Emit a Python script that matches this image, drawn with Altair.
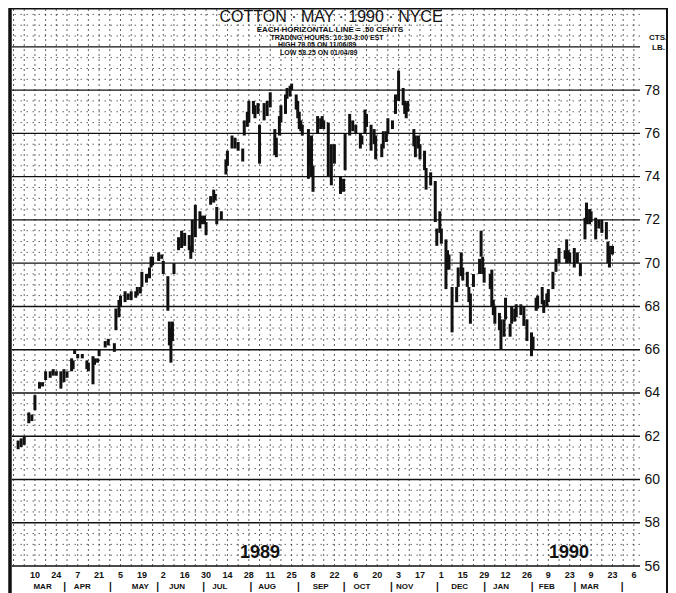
import altair as alt
import pandas as pd

# ---------------- data ----------------
bar_dates = [
    "1989-02-27", "1989-03-01", "1989-03-03", "1989-03-06", "1989-03-08", "1989-03-10",
    "1989-03-13", "1989-03-15", "1989-03-17", "1989-03-20", "1989-03-22", "1989-03-24",
    "1989-03-27", "1989-03-29", "1989-03-31", "1989-04-03", "1989-04-04", "1989-04-05",
    "1989-04-07", "1989-04-10", "1989-04-13", "1989-04-14", "1989-04-17", "1989-04-18",
    "1989-04-20", "1989-04-21", "1989-04-25", "1989-04-27", "1989-05-01", "1989-05-02",
    "1989-05-04", "1989-05-05",
    "1989-05-08", "1989-05-10", "1989-05-12", "1989-05-15", "1989-05-16", "1989-05-18",
    "1989-05-19", "1989-05-22", "1989-05-24", "1989-05-25", "1989-05-26", "1989-05-30",
    "1989-06-01", "1989-06-02", "1989-06-05", "1989-06-06", "1989-06-07", "1989-06-08",
    "1989-06-09", "1989-06-12", "1989-06-14", "1989-06-16", "1989-06-19", "1989-06-20",
    "1989-06-21", "1989-06-23", "1989-06-26", "1989-06-27", "1989-06-29", "1989-06-30",
    "1989-07-03", "1989-07-05", "1989-07-06", "1989-07-07", "1989-07-10",
    "1989-07-13", "1989-07-14", "1989-07-17", "1989-07-19", "1989-07-21", "1989-07-24",
    "1989-07-25", "1989-07-27", "1989-07-28", "1989-07-31", "1989-08-01", "1989-08-03",
    "1989-08-04", "1989-08-07", "1989-08-09", "1989-08-11", "1989-08-14", "1989-08-15",
    "1989-08-17", "1989-08-18", "1989-08-21", "1989-08-22", "1989-08-24", "1989-08-25",
    "1989-08-28", "1989-08-29", "1989-08-30", "1989-08-31", "1989-09-01", "1989-09-05",
    "1989-09-06", "1989-09-07", "1989-09-08", "1989-09-11", "1989-09-13", "1989-09-14",
    "1989-09-15", "1989-09-18", "1989-09-20", "1989-09-22",
    "1989-09-26", "1989-09-28", "1989-09-29", "1989-10-02", "1989-10-04", "1989-10-06",
    "1989-10-09", "1989-10-10", "1989-10-12", "1989-10-13", "1989-10-16", "1989-10-18",
    "1989-10-19", "1989-10-23", "1989-10-24", "1989-10-26", "1989-10-27", "1989-10-30",
    "1989-11-01", "1989-11-03", "1989-11-06", "1989-11-07", "1989-11-08", "1989-11-09",
    "1989-11-13", "1989-11-14", "1989-11-16", "1989-11-17", "1989-11-20", "1989-11-21",
    "1989-11-24", "1989-11-27", "1989-11-28", "1989-11-30", "1989-12-01", "1989-12-04",
    "1989-12-05", "1989-12-06",
    "1989-12-08", "1989-12-11", "1989-12-12", "1989-12-14", "1989-12-15", "1989-12-18",
    "1989-12-19", "1989-12-20", "1989-12-22", "1989-12-26", "1989-12-27", "1989-12-28",
    "1989-12-29", "1990-01-02", "1990-01-03", "1990-01-04", "1990-01-05", "1990-01-08",
    "1990-01-09", "1990-01-11", "1990-01-12", "1990-01-15", "1990-01-16", "1990-01-18",
    "1990-01-19", "1990-01-22", "1990-01-24", "1990-01-26", "1990-01-29", "1990-01-30",
    "1990-02-01", "1990-02-02", "1990-02-05", "1990-02-06", "1990-02-08", "1990-02-09",
    "1990-02-12", "1990-02-14", "1990-02-16", "1990-02-20", "1990-02-21", "1990-02-22",
    "1990-02-23", "1990-02-26", "1990-02-28", "1990-03-02", "1990-03-05", "1990-03-06",
    "1990-03-08", "1990-03-09", "1990-03-12", "1990-03-14", "1990-03-16", "1990-03-19",
    "1990-03-20", "1990-03-21", "1990-03-23",
]
bar_low = [
    61.4, 61.5, 61.6, 62.6, 62.7, 63.2,
    64.2, 64.3, 64.6, 64.7, 64.8, 64.8,
    64.2, 64.5, 64.7, 65.0, 65.1, 65.8,
    65.6, 65.6, 65.1, 65.0, 64.4, 65.3,
    65.4, 65.7, 66.1, 66.2, 65.9, 66.9,
    67.5, 68.0,
    68.2, 68.3, 68.3, 68.4, 68.5, 68.6,
    68.9, 69.1, 69.3, 69.8, 69.9, 70.1,
    70.2, 69.5, 67.8, 66.2, 65.4, 66.4,
    69.5, 70.6, 70.7, 70.8, 70.6, 70.2,
    70.5, 71.2, 71.6, 71.8, 71.8, 71.3,
    72.7, 72.8, 72.9, 71.8, 72.0,
    74.1, 74.5, 75.3, 75.3, 75.2, 74.7,
    75.9, 76.3, 76.5, 76.9, 76.7, 76.9,
    74.6, 76.6, 76.8, 77.2, 75.0, 74.9,
    75.9, 76.5, 76.9, 77.6, 77.7, 78.0,
    77.1, 76.7, 76.2, 76.1, 75.9, 73.9,
    74.5, 74.0, 73.3, 76.0, 76.2, 76.3,
    76.2, 74.0, 73.6, 74.6,
    73.2, 73.3, 74.3, 75.9, 76.1, 76.0,
    75.3, 75.5, 76.0, 76.3, 75.2, 75.5,
    74.8, 74.9, 75.3, 75.6, 76.0, 76.2,
    76.9, 77.5, 77.3, 76.9, 76.7, 77.0,
    75.4, 74.9, 75.3, 74.8, 74.3, 73.4,
    73.6, 71.9, 70.8, 71.4, 70.9, 68.8,
    69.7, 69.7,
    66.8, 68.2, 68.9, 69.4, 69.2, 68.9,
    68.2, 67.2, 68.9, 69.5, 70.3, 69.5,
    69.1, 68.8, 68.0, 67.6, 67.2, 66.9,
    66.0, 66.6, 67.4, 66.6, 67.2, 67.3,
    67.5, 67.6, 67.1, 66.4, 65.7, 66.0,
    67.8, 67.9, 68.1, 67.7, 68.0, 68.2,
    68.8, 69.6, 70.0, 70.2, 70.0, 70.1,
    70.0, 69.8, 70.0, 69.4, 71.1, 71.8,
    71.8, 71.9, 71.1, 71.6, 71.4, 71.1,
    70.0, 69.8, 70.4,
]
bar_high = [
    61.8, 61.9, 62.0, 63.1, 63.0, 63.9,
    64.5, 64.5, 65.0, 65.0, 65.1, 65.0,
    65.0, 65.1, 65.0, 65.6, 65.5, 66.0,
    65.8, 65.8, 65.5, 65.4, 65.7, 65.6,
    65.6, 66.0, 66.4, 66.5, 66.3, 67.9,
    68.3, 68.5,
    68.7, 68.6, 68.7, 68.7, 68.9, 68.9,
    69.6, 69.5, 69.8, 70.3, 70.3, 70.5,
    70.4, 70.1, 69.4, 67.3, 67.0, 67.3,
    70.0, 71.2, 71.5, 71.4, 71.3, 70.8,
    72.0, 72.7, 72.4, 72.2, 72.2, 71.9,
    73.1, 73.4, 73.2, 72.6, 72.4,
    74.8, 75.2, 75.9, 75.8, 75.6, 75.3,
    76.6, 77.0, 77.5, 77.5, 77.3, 77.4,
    76.4, 77.4, 77.5, 77.9, 76.2, 75.8,
    76.8, 77.3, 77.8, 78.1, 78.2, 78.3,
    77.8, 77.5, 77.0, 76.6, 76.4, 76.2,
    75.4, 75.9, 74.5, 76.8, 76.7, 76.8,
    76.6, 76.5, 75.5, 75.5,
    74.0, 73.9, 76.0, 76.9, 76.6, 76.4,
    76.0, 75.9, 77.1, 76.9, 76.4, 76.2,
    75.9, 75.5, 76.1, 76.1, 76.7, 76.6,
    77.8, 78.9, 78.1, 77.5, 77.4, 77.5,
    76.2, 75.9, 75.9, 75.5, 75.2, 74.4,
    74.2, 73.8, 71.6, 72.4, 71.6, 71.1,
    70.6, 70.4,
    68.9, 68.9, 69.8, 70.5, 69.8, 69.6,
    68.9, 68.6, 69.5, 70.2, 71.5, 70.3,
    69.8, 69.5, 69.7, 68.3, 68.0, 67.7,
    67.4, 67.4, 68.4, 67.2, 68.0, 67.9,
    68.1, 68.1, 68.0, 67.4, 66.8, 66.6,
    68.4, 68.5, 68.9, 68.3, 68.6, 68.8,
    69.6, 70.2, 70.7, 70.6, 71.1, 70.6,
    70.5, 70.7, 70.5, 70.0, 72.1, 72.8,
    72.5, 72.4, 72.1, 72.0, 72.0, 71.9,
    71.0, 70.8, 70.8,
]

# price grid (cents / lb)
solid_levels = [56, 58, 60, 62, 64, 66, 68, 70, 72, 74, 76, 78, 80]
axis_labels = [56, 58, 60, 62, 64, 66, 68, 70, 72, 74, 76, 78]
dotted_levels = [v / 2 for v in range(113, 164) if v % 4 != 0]

# weekly (Friday) vertical grid
week_dates = [d.strftime("%Y-%m-%d") for d in pd.date_range("1989-02-24", "1990-04-06", freq="7D")]

# bottom axis texts
day_label_dates = [
    "1989-03-10", "1989-03-24", "1989-04-07", "1989-04-21", "1989-05-05", "1989-05-19",
    "1989-06-02", "1989-06-16", "1989-06-30", "1989-07-14", "1989-07-28", "1989-08-11",
    "1989-08-25", "1989-09-08", "1989-09-22", "1989-10-06", "1989-10-20", "1989-11-03",
    "1989-11-17", "1989-12-01", "1989-12-15", "1989-12-29", "1990-01-12", "1990-01-26",
    "1990-02-09", "1990-02-23", "1990-03-09", "1990-03-23", "1990-04-06",
]
day_labels = ["10", "24", "7", "21", "5", "19", "2", "16", "30", "14", "28", "11", "25", "8",
              "22", "6", "20", "3", "17", "1", "15", "29", "12", "26", "9", "23", "9", "23", "6"]
month_names = ["MAR", "APR", "MAY", "JUN", "JUL", "AUG", "SEP", "OCT", "NOV", "DEC",
               "JAN", "FEB", "MAR"]
month_label_dates = ["1989-03-15", "1989-04-10", "1989-05-18", "1989-06-11", "1989-07-09",
                     "1989-08-09", "1989-09-13", "1989-10-10", "1989-11-07", "1989-12-13",
                     "1990-01-09", "1990-02-08", "1990-03-08"]
month_start_dates = ["1989-04-01", "1989-05-01", "1989-06-01", "1989-07-01", "1989-08-01",
                     "1989-09-01", "1989-10-01", "1989-11-01", "1989-12-01", "1990-01-01",
                     "1990-02-01", "1990-03-01", "1990-04-01"]

# ---------------- chart ----------------
W, H = 628, 557
INK = "#111111"
FONT = "Liberation Sans"

xscale = alt.Scale(type="utc",
                   domain=[alt.DateTime(year=1989, month=2, date=23, utc=True),
                           alt.DateTime(year=1990, month=4, date=10, utc=True)])
yscale = alt.Scale(domain=[56, 81.75], nice=False, zero=False)
yaxis = alt.Axis(orient="right", values=axis_labels, domain=False, ticks=False, grid=False,
                 labelPadding=4, labelFont=FONT, labelFontSize=14, labelColor=INK,
                 title=None, labelBaseline="middle")

bars_df = pd.DataFrame({"date": bar_dates, "low": bar_low, "high": bar_high})

week_grid = alt.Chart(pd.DataFrame({"date": week_dates})).mark_rule(
    color="#222222", strokeWidth=1, strokeDash=[2, 3], opacity=0.7
).encode(x=alt.X("date:T", scale=xscale, axis=None))

solid = alt.Chart(pd.DataFrame({"level": solid_levels})).mark_rule(
    color=INK, strokeWidth=1.4
).encode(y=alt.Y("level:Q", scale=yscale, axis=yaxis))

dotted = alt.Chart(pd.DataFrame({"level": dotted_levels})).mark_rule(
    color="#222222", strokeWidth=1, strokeDash=[1.5, 4.5], opacity=0.7
).encode(y=alt.Y("level:Q", scale=yscale, axis=yaxis))

bars = alt.Chart(bars_df).mark_rule(color=INK, strokeWidth=3).encode(
    x=alt.X("date:T", scale=xscale, axis=None),
    y=alt.Y("low:Q", scale=yscale, axis=yaxis),
    y2="high:Q",
)

day_text = alt.Chart(pd.DataFrame({"date": day_label_dates, "lab": day_labels})).mark_text(
    font=FONT, fontSize=9, fontWeight="bold", color=INK, baseline="middle"
).encode(x=alt.X("date:T", scale=xscale, axis=None), y=alt.value(H + 9), text="lab:N")

month_text = alt.Chart(pd.DataFrame({"date": month_label_dates, "lab": month_names})).mark_text(
    font=FONT, fontSize=8, fontWeight="bold", color=INK, baseline="middle"
).encode(x=alt.X("date:T", scale=xscale, axis=None), y=alt.value(H + 21), text="lab:N")

month_sep = alt.Chart(pd.DataFrame({"date": month_start_dates})).mark_text(
    text="|", font=FONT, fontSize=10, fontWeight="bold", color=INK, baseline="middle", dx=-4
).encode(x=alt.X("date:T", scale=xscale, axis=None), y=alt.value(H + 21))


def label(txt, x, y, size, weight="normal", align="center", font=FONT):
    return alt.Chart(pd.DataFrame({"t": [txt]})).mark_text(
        font=font, fontSize=size, fontWeight=weight, color=INK, align=align, baseline="middle"
    ).encode(x=alt.value(x), y=alt.value(y), text="t:N")


texts = [
    label("COTTON · MAY · 1990 · NYCE", 319, 8, 16),
    label("EACH HORIZONTAL LINE = .50 CENTS", 318, 21, 8, "bold"),
    label("TRADING HOURS: 10:30-3:00 EST", 315, 29, 7, "bold"),
    label("HIGH   79.05 ON 11/06/89", 266, 35.5, 7, "bold", "left"),
    label("LOW    58.25 ON 01/04/89", 268, 43.5, 7, "bold", "left"),
    label("CTS.", 637, 29, 8, "bold", "left"),
    label("LB.", 640, 39, 8, "bold", "left"),
    label("1989", 248, 544, 18, "bold"),
    label("1990", 557, 544, 18, "bold"),
]

frame_left = alt.Chart(pd.DataFrame({"t": [0]})).mark_rule(color=INK, strokeWidth=3.5).encode(
    x=alt.value(-2), y=alt.value(-1), y2=alt.value(H + 27))
frame_right = alt.Chart(pd.DataFrame({"t": [0]})).mark_rule(color=INK, strokeWidth=2).encode(
    x=alt.value(W + 27), y=alt.value(-1), y2=alt.value(H + 27))
frame_top = alt.Chart(pd.DataFrame({"t": [0]})).mark_rule(color=INK, strokeWidth=1.5).encode(
    x=alt.value(-3), x2=alt.value(W + 28), y=alt.value(-0.25))

chart = alt.layer(
    week_grid, solid, dotted, bars, day_text, month_text, month_sep,
    frame_left, frame_right, frame_top, *texts
).properties(
    width=W, height=H,
    padding={"left": 4, "top": 1, "right": 28, "bottom": 27},
    autosize=alt.AutoSizeParams(type="none"),
    background="white",
).configure_view(stroke=None)

chart.save("out.html", embed_options={"renderer": "svg", "actions": False})
